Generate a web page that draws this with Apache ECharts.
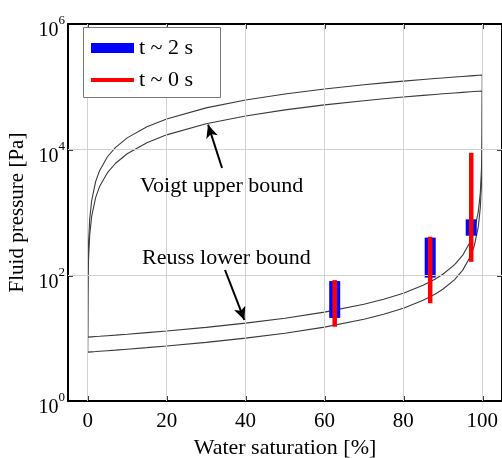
<!DOCTYPE html>
<html>
<head>
<meta charset="utf-8">
<script src="https://cdn.jsdelivr.net/npm/echarts@6/dist/echarts.min.js"></script>
<style>html,body{margin:0;padding:0;background:#fff;}#c{width:502px;height:458px;}</style>
</head>
<body>
<div id="c"></div>
<script>
// Water saturation [%] sample positions for the bound curves
var saturation = [0, 0.05, 0.1, 0.2, 0.5, 1, 2, 3, 5, 7, 10, 15, 20, 30, 40, 50, 60, 70, 75, 80, 85, 88, 90, 93, 95, 97, 98, 99, 99.5, 99.8, 99.9, 99.95, 100];
// Upper pair of curves (fluid pressure, Pa)
var voigtA = [10.4, 87.4, 164, 318, 780, 1550, 3090, 4630, 7710, 10790, 15410, 23110, 30810, 46210, 61600, 77000, 92400, 107800, 115500, 123200, 130900, 135500, 138600, 143220, 146300, 149380, 150920, 152460, 153230, 153690, 153850, 153920, 154000];
var reussA = [10.4, 10.41, 10.41, 10.42, 10.45, 10.5, 10.61, 10.72, 10.95, 11.18, 11.55, 12.24, 13.0, 14.86, 17.33, 20.8, 26.0, 34.66, 41.6, 52.0, 69.3, 86.6, 103.9, 148.4, 207.6, 345.9, 518, 1033, 2048, 5029, 9745, 18310, 154000];
// Lower pair of curves
var voigtB = [6.0, 49, 92, 178, 436, 866, 1726, 2586, 4306, 6026, 8606, 12906, 17206, 25806, 34406, 43006, 51606, 60206, 64506, 68806, 73106, 75686, 77406, 79986, 81706, 83426, 84286, 85146, 85573, 85830, 85915, 85957, 86000];
var reussB = [6.0, 6.0, 6.01, 6.01, 6.03, 6.06, 6.12, 6.19, 6.32, 6.45, 6.67, 7.06, 7.5, 8.57, 10.0, 12.0, 15.0, 20.0, 24.0, 30.0, 40.0, 50.0, 60.0, 85.6, 119.9, 199.5, 298.9, 595.7, 1184, 2902, 5609, 10530, 86000];

// Measured ranges
var barX = [62.6, 86.8, 97.2];
var blueLow = [21, 92, 427];
var blueHigh = [81, 398, 778];
var redLow = [15.2, 36, 164];
var redHigh = [84, 411, 8930];

var xTicks = [0, 20, 40, 60, 80, 100];
var yTickExponents = [0, 2, 4, 6];

function pairs(xs, ys) { return xs.map(function (x, i) { return [x, ys[i]]; }); }
function loop(xs, reuss, voigt) {
  var a = pairs(xs, reuss);
  var b = pairs(xs, voigt).reverse();
  return a.concat(b);
}
function rangeData(lo, hi) { return barX.map(function (x, i) { return [x, lo[i], hi[i]]; }); }
function barRender(width, color) {
  return function (params, api) {
    var x = api.value(0), lo = api.value(1), hi = api.value(2);
    var p1 = api.coord([x, hi]);
    var p2 = api.coord([x, lo]);
    return { type: 'rect', shape: { x: p1[0] - width / 2, y: p1[1], width: width, height: p2[1] - p1[1] }, style: { fill: color } };
  };
}

var FONT = '"Liberation Serif", "Times New Roman", serif';
var chart = echarts.init(document.getElementById('c'), null, { renderer: 'canvas' });
var curveStyle = { color: '#3a3a3a', width: 1.1 };

chart.setOption({
  animation: false,
  backgroundColor: '#fff',
  grid: { left: 68, right: 0, top: 24, bottom: 57, containLabel: false, outerBoundsMode: 'none' },
  xAxis: [{
    type: 'value', min: -5, max: 105, interval: 20,
    name: 'Water saturation [%]', nameLocation: 'middle', nameGap: 30,
    nameTextStyle: { fontFamily: FONT, fontSize: 22, color: '#000' },
    axisLine: { onZero: false, lineStyle: { color: '#000', width: 2 } },
    axisTick: { inside: true, length: 5, lineStyle: { color: '#000', width: 1.5 }, customValues: xTicks },
    axisLabel: { fontFamily: FONT, fontSize: 21, color: '#000', margin: 10, customValues: xTicks },
    splitLine: { show: false }
  }, {
    type: 'value', min: -5, max: 105, position: 'top',
    axisLine: { onZero: false, lineStyle: { color: '#000', width: 2 } },
    axisTick: { inside: true, length: 5, lineStyle: { color: '#000', width: 1.5 }, customValues: xTicks },
    axisLabel: { show: false },
    splitLine: { show: false }
  }],
  yAxis: [{
    type: 'log', logBase: 10, min: 1, max: 1e6, interval: 2, position: 'left',
    name: 'Fluid pressure [Pa]', nameLocation: 'middle', nameGap: 34, nameRotate: 90,
    nameTextStyle: { fontFamily: FONT, fontSize: 21, color: '#000' },
    axisLine: { show: true, onZero: false, lineStyle: { color: '#000', width: 2 } },
    axisTick: { inside: true, length: 5, lineStyle: { color: '#000', width: 1.5 } },
    minorTick: { show: false },
    axisLabel: {
      margin: 3,
      formatter: function (v) {
        var e = Math.round(Math.log10(v));
        return '{b|10}{s|' + e + '}';
      },
      rich: {
        b: { fontFamily: FONT, fontSize: 20, color: '#000', padding: [14, 0, 0, 0] },
        s: { fontFamily: FONT, fontSize: 13, color: '#000', padding: [0, 0, 6, 0] }
      }
    },
    splitLine: { show: false }
  }, {
    type: 'log', logBase: 10, min: 1, max: 1e6, interval: 2, position: 'right',
    axisLine: { show: true, onZero: false, lineStyle: { color: '#000', width: 2 } },
    axisTick: { inside: true, length: 5, lineStyle: { color: '#000', width: 1.5 } },
    axisLabel: { show: false },
    splitLine: { show: false }
  }],
  legend: [{
    data: [{ name: 't ~ 2 s', icon: 'rect', itemStyle: { color: '#0000ff' } }],
    left: 86, top: 32, itemWidth: 43, itemHeight: 10,
    textStyle: { fontFamily: FONT, fontSize: 22, color: '#000' },
    selectedMode: false, z: 20
  }, {
    data: [{ name: 't ~ 0 s', icon: 'rect', itemStyle: { color: '#ff0000' } }],
    left: 86, top: 64, itemWidth: 43, itemHeight: 4,
    textStyle: { fontFamily: FONT, fontSize: 22, color: '#000' },
    selectedMode: false, z: 20
  }],
  graphic: [
    { type: 'rect', left: 83, top: 27, shape: { width: 137, height: 70 }, style: { fill: '#fff', stroke: '#777', lineWidth: 1 }, z: 10 },
    { type: 'text', left: 140, top: 175, style: { text: 'Voigt upper bound', font: '22px ' + FONT, fill: '#000' }, z: 10 },
    { type: 'text', left: 142, top: 247, style: { text: 'Reuss lower bound', font: '22px ' + FONT, fill: '#000' }, z: 10 }
  ],
  series: [
    {
      type: 'line', data: [], xAxisIndex: 0, yAxisIndex: 0, silent: true, z: 1,
      markLine: {
        silent: true, symbol: 'none', label: { show: false },
        lineStyle: { color: '#d2d2d2', width: 1, type: 'solid' },
        data: xTicks.map(function (t) { return { xAxis: t }; }).concat(
          yTickExponents.slice(1, 3).map(function (e) { return { yAxis: Math.pow(10, e) }; }))
      }
    },
    { type: 'line', name: 'loopA', data: loop(saturation, reussA, voigtA), showSymbol: false, lineStyle: curveStyle, z: 3, silent: true },
    { type: 'line', name: 'loopB', data: loop(saturation, reussB, voigtB), showSymbol: false, lineStyle: curveStyle, z: 3, silent: true },
    { type: 'custom', name: 't ~ 2 s', data: rangeData(blueLow, blueHigh), renderItem: barRender(11, '#0000ff'), encode: { x: 0, y: [1, 2] }, z: 4, itemStyle: { color: '#0000ff' } },
    { type: 'custom', name: 't ~ 0 s', data: rangeData(redLow, redHigh), renderItem: barRender(4.5, '#ff0000'), encode: { x: 0, y: [1, 2] }, z: 5, itemStyle: { color: '#ff0000' } },
    {
      type: 'line', data: [], silent: true, z: 6,
      markLine: {
        silent: true, symbol: ['none', 'arrow'], symbolSize: [9, 13], label: { show: false },
        lineStyle: { color: '#000', width: 2, type: 'solid' },
        data: [
          [{ coord: [34.04, 5110] }, { coord: [30.5, 25000] }],
          [{ coord: [34.8, 121.6] }, { coord: [39.7, 19.5] }]
        ]
      }
    }
  ]
});
</script>
</body>
</html>
